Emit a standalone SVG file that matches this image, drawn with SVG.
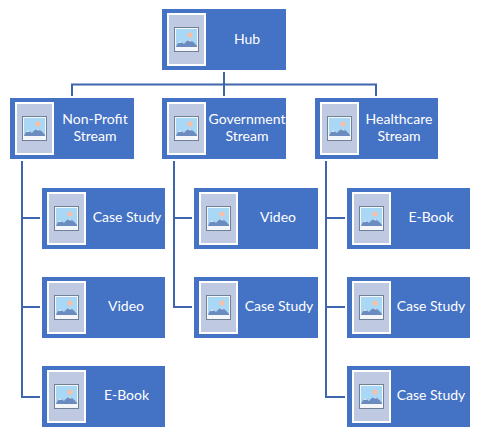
<svg xmlns="http://www.w3.org/2000/svg" width="484" height="444" viewBox="0 0 484 444">
<style>
.box{fill:#4472c4}
.frame{fill:#bfc9e2;stroke:#fff;stroke-width:2}
.lbl{font-family:Lato,"Liberation Sans",Arial,sans-serif;font-size:14px;fill:#fff;text-anchor:middle}
.conn{fill:none;stroke:#3f66ad;stroke-width:2}
</style>
<defs>
<g id="pic">
<rect x="6" y="5" width="37" height="51" class="frame"/>
<rect x="12.500" y="18.500" width="24" height="24" fill="#f4f6fa" stroke="#6f8196" stroke-width="1"/>
<rect x="14" y="20" width="21" height="18" fill="#a9d8f7"/>
<circle cx="28" cy="26" r="2.600" fill="#f6bfa6"/>
<path d="M14 38 Q15 35 18 32 L22 35 Q25 31 28 31 Q31 32 35 37 L35 38 Z" fill="#6c8cc0"/>
<path d="M16.500 34 L18 32 L20 33.500 Z M26 32 L28 31 L30 32.500 Z" fill="#fff"/>
</g>
</defs>
<g id="connectors" class="conn">
<path d="M224 72V96"/>
<path d="M72 96V84.500H376V96"/>
<path d="M22 161V397H40"/>
<path d="M22 218H40M22 307H40"/>
<path d="M174 161V307H192M174 218H192"/>
<path d="M326 161V397H345M326 218H345M326 307H345"/>
</g>
<g id="hub"><rect x="162" y="9" width="124" height="61" class="box"/><use href="#pic" x="162" y="9"/><text x="247" y="44" class="lbl">Hub</text></g>
<g id="stream-nonprofit"><rect x="10" y="98" width="124" height="61" class="box"/><use href="#pic" x="10" y="98"/><text x="95" y="124" class="lbl">Non-Profit</text><text x="95" y="141" class="lbl">Stream</text></g>
<g id="stream-government"><rect x="162" y="98" width="124" height="61" class="box"/><use href="#pic" x="162" y="98"/><text x="247" y="124" class="lbl">Government</text><text x="247" y="141" class="lbl">Stream</text></g>
<g id="stream-healthcare"><rect x="315" y="98" width="123" height="61" class="box"/><use href="#pic" x="315" y="98"/><text x="399" y="124" class="lbl">Healthcare</text><text x="399" y="141" class="lbl">Stream</text></g>
<g id="a1"><rect x="42" y="188" width="123" height="61" class="box"/><use href="#pic" x="42" y="188"/><text x="127" y="222" class="lbl">Case Study</text></g>
<g id="a2"><rect x="42" y="277" width="123" height="61" class="box"/><use href="#pic" x="42" y="277"/><text x="126" y="311" class="lbl">Video</text></g>
<g id="a3"><rect x="42" y="366" width="123" height="61" class="box"/><use href="#pic" x="42" y="366"/><text x="126.500" y="400" class="lbl">E-Book</text></g>
<g id="b1"><rect x="194" y="188" width="124" height="61" class="box"/><use href="#pic" x="194" y="188"/><text x="278" y="222" class="lbl">Video</text></g>
<g id="b2"><rect x="194" y="277" width="124" height="61" class="box"/><use href="#pic" x="194" y="277"/><text x="279" y="311" class="lbl">Case Study</text></g>
<g id="c1"><rect x="347" y="188" width="123" height="61" class="box"/><use href="#pic" x="347" y="188"/><text x="431" y="222" class="lbl">E-Book</text></g>
<g id="c2"><rect x="347" y="277" width="123" height="61" class="box"/><use href="#pic" x="347" y="277"/><text x="431" y="311" class="lbl">Case Study</text></g>
<g id="c3"><rect x="347" y="366" width="123" height="61" class="box"/><use href="#pic" x="347" y="366"/><text x="431" y="400" class="lbl">Case Study</text></g>
</svg>
